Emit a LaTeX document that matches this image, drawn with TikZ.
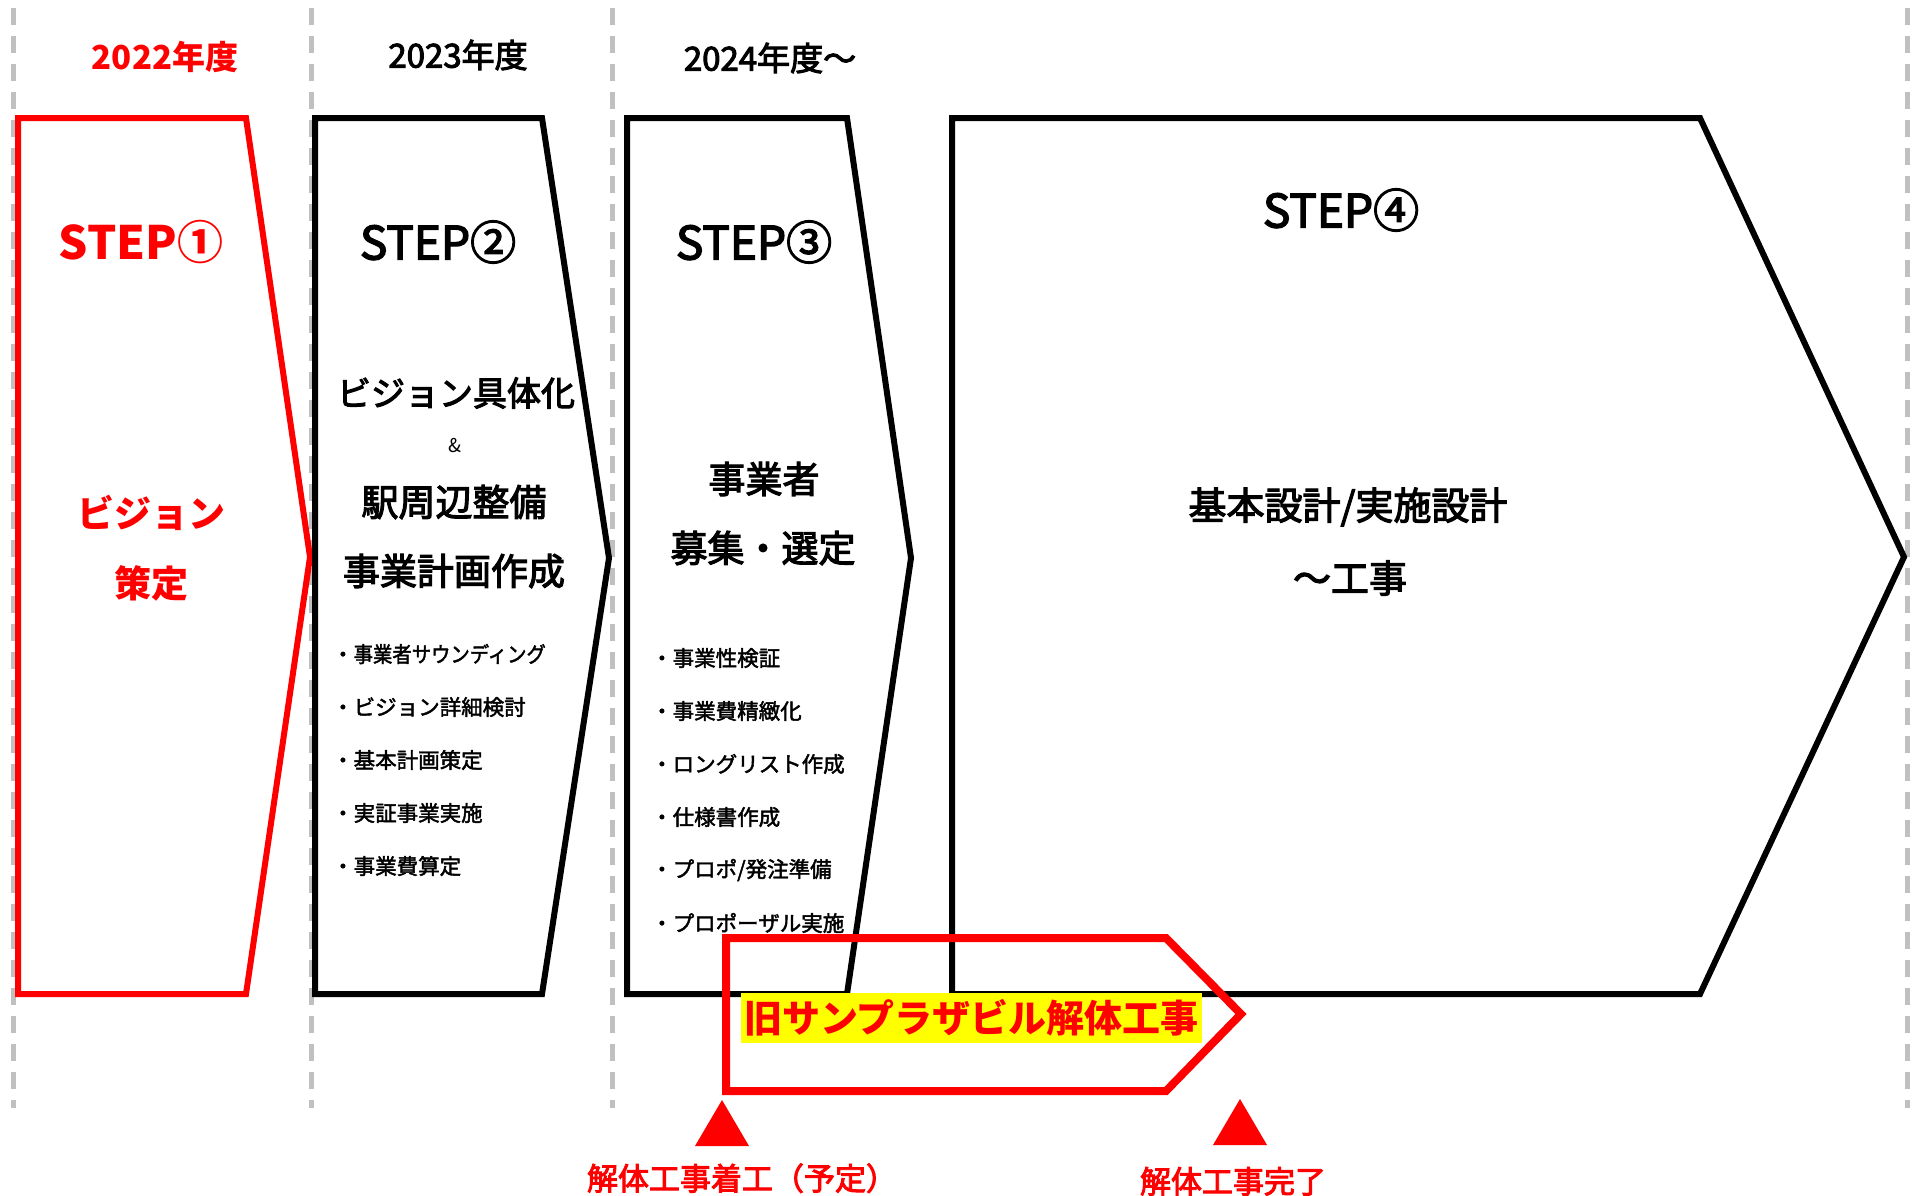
\documentclass[tikz,border=0pt]{standalone}
\usepackage{fontspec}
\usepackage{graphicx}
\setmainfont{Noto Sans CJK JP}
\newfontfamily\jpmed{Noto Sans CJK JP}[FakeBold=3]
\newfontfamily\jpsemi{Noto Sans CJK JP}[FakeBold=2]
\definecolor{myred}{RGB}{255,0,0}
\definecolor{myyellow}{RGB}{255,255,0}
\definecolor{dashgray}{RGB}{192,192,192}
\begin{document}
\begin{tikzpicture}[x=1pt,y=-1pt,
  blkshape/.style={draw=black,line width=6pt,line join=miter},
  redshape/.style={draw=myred,line width=6pt,line join=miter},
  demoshape/.style={draw=myred,line width=8pt,line join=miter},
  vline/.style={draw=dashgray,line width=5pt,dash pattern=on 17pt off 11pt},
  txt/.style={inner sep=0pt,anchor=center},
  yr/.style={txt,font=\fontsize{33}{36}\selectfont\jpmed},
  steplbl/.style={txt,font=\fontsize{46}{50}\selectfont\jpmed},
  big/.style={txt,font=\fontsize{37}{40}\selectfont\jpmed},
  itm/.style={inner sep=0pt,anchor=west,font=\fontsize{21.5}{24}\selectfont\jpsemi},
  marker/.style={fill=myred,draw=none},
  bottomlbl/.style={inner sep=0pt,anchor=base,text=myred,font=\fontsize{31}{34}\selectfont\jpmed}
]
\useasboundingbox (0,0) rectangle (1914,1195);

% dashed year separators
\draw[vline] (13,8) -- (13,1108);
\draw[vline] (311,8) -- (311,1108);
\draw[vline] (612,8) -- (612,1108);
\draw[vline] (1907,8) -- (1907,1108);

% year headers
\node[yr,text=myred,font=\fontsize{33}{36}\selectfont\bfseries] (y1) at (165,57) {2022年度};
\node[yr] (y2) at (458,55) {2023年度};
\node[yr] (y3) at (770,58) {2024年度～};

% step shapes
\draw[redshape] (18,118) -- (246,118) -- (310,557) -- (246,994) -- (18,994) -- cycle;
\draw[blkshape] (315,118) -- (542,118) -- (609,558) -- (542,994) -- (315,994) -- cycle;
\draw[blkshape] (627,118) -- (847,118) -- (911,558) -- (847,994) -- (627,994) -- cycle;
\draw[blkshape] (952,118) -- (1700,118) -- (1904,557) -- (1700,994) -- (952,994) -- cycle;

% STEP 1
\node[steplbl,text=myred,font=\fontsize{46}{50}\selectfont\bfseries] (s1) at (141,242) {STEP①};
\node[big,text=myred,font=\fontsize{37}{40}\selectfont\bfseries] (s1a) at (151,513) {ビジョン};
\node[big,text=myred,font=\fontsize{37}{40}\selectfont\bfseries] (s1b) at (151,583) {策定};

% STEP 2
\node[steplbl] (s2) at (438,242) {STEP②};
\node[big,font=\fontsize{34}{38}\selectfont\jpmed] (s2a) at (456,393) {ビジョン具体化};
\node[txt,font=\fontsize{19}{22}\selectfont] (s2amp) at (455,446) {\&};
\node[big] (s2b) at (454,502) {駅周辺整備};
\node[big] (s2c) at (454,571) {事業計画作成};
\node[itm] (s2i1) at (332,654) {・\scalebox{0.9}[1]{事業者サウンディング}};
\node[itm] (s2i2) at (332,707) {・ビジョン詳細検討};
\node[itm] (s2i3) at (332,760) {・基本計画策定};
\node[itm] (s2i4) at (332,813) {・実証事業実施};
\node[itm] (s2i5) at (332,866) {・事業費算定};

% STEP 3
\node[steplbl] (s3) at (754,242) {STEP③};
\node[big] (s3a) at (764,479) {事業者};
\node[big] (s3b) at (763,548) {募集・選定};
\node[itm] (s3i1) at (651,658) {・事業性検証};
\node[itm] (s3i2) at (651,711) {・事業費精緻化};
\node[itm] (s3i3) at (651,764) {・ロングリスト作成};
\node[itm] (s3i4) at (651,817) {・仕様書作成};
\node[itm] (s3i5) at (651,870) {・プロポ/発注準備};
\node[itm] (s3i6) at (651,923) {・プロポーザル実施};

% STEP 4
\node[steplbl] (s4) at (1341,210) {STEP④};
\node[big,font=\fontsize{38}{40}\selectfont\jpmed] (s4a) at (1348,507) {基本設計/実施設計};
\node[big,font=\fontsize{38}{40}\selectfont\jpmed] (s4b) at (1350,578) {～工事};

% demolition arrow
\draw[demoshape] (726,938) -- (1166,938) -- (1241,1014) -- (1166,1091) -- (726,1091) -- cycle;
\node[txt,fill=myyellow,text=myred,minimum width=461pt,minimum height=50pt,font=\fontsize{38}{40}\selectfont\bfseries] (demo) at (971.5,1018) {旧サンプラザビル解体工事};

% markers
\fill[marker] (722,1100) -- (749,1146) -- (695,1146) -- cycle;
\fill[marker] (1240,1099) -- (1267,1145) -- (1213,1145) -- cycle;
\node[bottomlbl] (m1) at (742,1190) {解体工事着工（予定）};
\node[bottomlbl] (m2) at (1233,1193) {解体工事完了};
\end{tikzpicture}
\end{document}
